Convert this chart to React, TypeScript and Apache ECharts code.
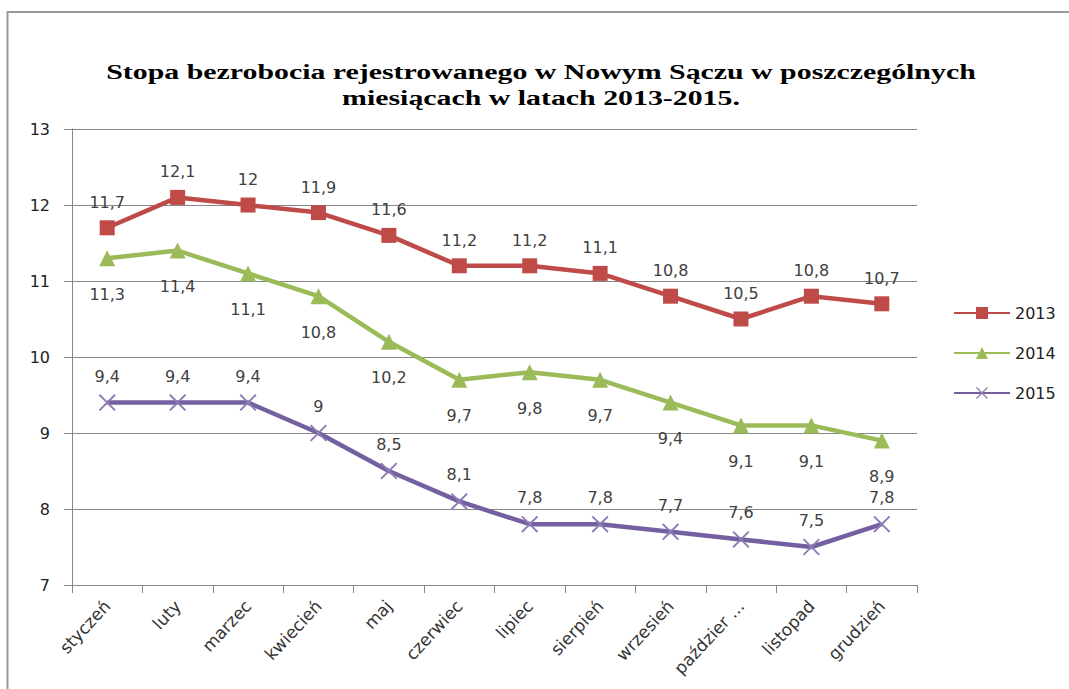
import React, { useEffect, useRef } from "react";
import * as echarts from "echarts";

const titleLines = [
  "Stopa bezrobocia rejestrowanego w Nowym Sączu w poszczególnych",
  "miesiącach w latach 2013-2015.",
];
const categories = [
  "styczeń", "luty", "marzec", "kwiecień", "maj", "czerwiec",
  "lipiec", "sierpień", "wrzesień", "październik", "listopad", "grudzień",
];
const seriesNames = ["2013", "2014", "2015"];
const data2013 = [11.7, 12.1, 12, 11.9, 11.6, 11.2, 11.2, 11.1, 10.8, 10.5, 10.8, 10.7];
const data2014 = [11.3, 11.4, 11.1, 10.8, 10.2, 9.7, 9.8, 9.7, 9.4, 9.1, 9.1, 8.9];
const data2015 = [9.4, 9.4, 9.4, 9, 8.5, 8.1, 7.8, 7.8, 7.7, 7.6, 7.5, 7.8];
const yMin = 7;
const yMax = 13;
const yStep = 1;

const X_SYMBOL =
  "path://M0,1.6L1.6,0L10,8.4L18.4,0L20,1.6L11.6,10L20,18.4L18.4,20L10,11.6L1.6,20L0,18.4L8.4,10Z";

const SANS = '"DejaVu Sans", Verdana, sans-serif';

export default function App() {
  const ref = useRef<HTMLDivElement>(null);
  useEffect(() => {
    if (!ref.current) return;
    const chart = echarts.init(ref.current, null, { renderer: "svg" });

    const titleFont = 'bold 21px "Liberation Serif", "Times New Roman", serif';
    const ctx = document.createElement("canvas").getContext("2d");
    let scaleX = 1;
    if (ctx) {
      ctx.font = titleFont;
      const w = ctx.measureText(titleLines[0]).width;
      if (w > 0) scaleX = 870 / w;
    }

    const fmt = (p: any) => String(p.value).replace(".", ",");
    const labelStyle = {
      show: true,
      formatter: fmt,
      fontSize: 16,
      fontFamily: SANS,
      color: "#404040",
    };

    chart.setOption({
      animation: false,
      backgroundColor: "#ffffff",
      graphic: [
        {
          type: "polyline",
          shape: { points: [[7.5, 700], [7.5, 12], [1080, 12]] },
          style: { fill: "none", stroke: "#999999", lineWidth: 2 },
          silent: true,
          z: -1,
        },
        ...titleLines.map((t, i) => ({
          type: "text",
          x: 541,
          y: 72 + i * 26,
          scaleX,
          style: {
            text: t,
            font: titleFont,
            fill: "#000",
            textAlign: "center",
            textVerticalAlign: "middle",
          },
        })),
      ],
      legend: {
        orient: "vertical",
        left: 948,
        top: 300,
        itemWidth: 56,
        itemHeight: 15,
        itemGap: 24,
        data: seriesNames,
        textStyle: { fontSize: 16, fontFamily: SANS, color: "#222" },
      },
      grid: { left: 72, right: 152, top: 129, bottom: 104 },
      xAxis: {
        type: "category",
        data: categories,
        boundaryGap: true,
        axisLine: { lineStyle: { color: "#868686", width: 1 } },
        axisTick: { show: true, length: 8, interval: 0, lineStyle: { color: "#868686" } },
        axisLabel: {
          interval: 0,
          rotate: 47,
          margin: 18,
          fontSize: 17,
          fontFamily: SANS,
          color: "#333",
          formatter: (v: string) => (v.length > 9 ? v.slice(0, 8) + " ..." : v),
        },
      },
      yAxis: {
        type: "value",
        min: yMin,
        max: yMax,
        interval: yStep,
        axisLine: { show: true, lineStyle: { color: "#868686", width: 1 } },
        axisTick: { show: true, length: 8, lineStyle: { color: "#868686" } },
        splitLine: { lineStyle: { color: "#868686", width: 1 } },
        axisLabel: { fontSize: 16, fontFamily: SANS, color: "#222", margin: 22 },
      },
      series: [
        {
          name: seriesNames[0],
          type: "line",
          data: data2013,
          symbol: "rect",
          symbolSize: 15,
          color: "#BE4B48",
          lineStyle: { width: 4.5, color: "#BE4B48" },
          itemStyle: { color: "#BE4B48" },
          label: { ...labelStyle, position: "top", distance: 10 },
        },
        {
          name: seriesNames[1],
          type: "line",
          data: data2014,
          symbol: "triangle",
          symbolSize: 16,
          color: "#9BBB59",
          lineStyle: { width: 4.5, color: "#9BBB59" },
          itemStyle: { color: "#9BBB59" },
          label: { ...labelStyle, position: "bottom", distance: 20 },
        },
        {
          name: seriesNames[2],
          type: "line",
          data: data2015,
          symbol: X_SYMBOL,
          symbolSize: 17,
          color: "#7460A0",
          lineStyle: { width: 4.5, color: "#7460A0" },
          itemStyle: { color: "#8E7BB5" },
          label: { ...labelStyle, position: "top", distance: 10 },
        },
      ],
    });
    return () => chart.dispose();
  }, []);

  return (
    <div
      ref={ref}
      style={{ position: "fixed", left: 0, top: 0, width: 1069, height: 689 }}
    />
  );
}
